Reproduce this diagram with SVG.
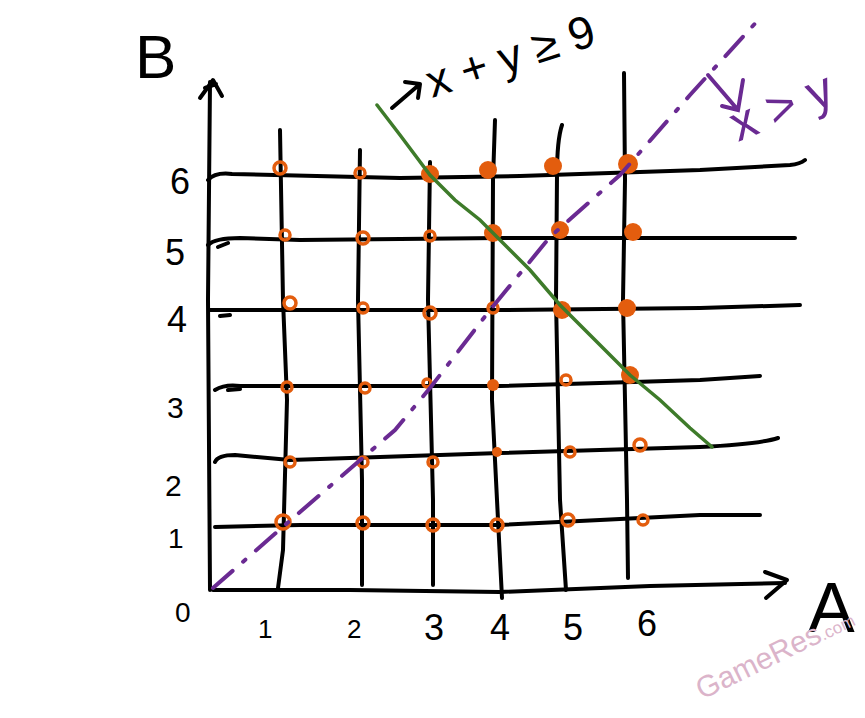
<svg xmlns="http://www.w3.org/2000/svg" width="865" height="718" viewBox="0 0 865 718">
<style>
.ink{fill:none;stroke:#000;stroke-width:4;stroke-linecap:round;stroke-linejoin:round}
.lbl{font-family:"Liberation Sans","DejaVu Sans",sans-serif;fill:#000}
.ring{fill:none;stroke:#e35d0e;stroke-width:3.5}
.dot{fill:#e35d0e}
.purple{fill:none;stroke:#6a2a92;stroke-width:4;stroke-linecap:round}
</style>
<rect width="865" height="718" fill="#fff"/>
<g id="grid">
<path class="ink" d="M208,180 Q215,172 232,174 L400,178 L520,176 L700,170 L790,165 Q800,164 805,160"/>
<path class="ink" d="M208,245 Q215,238 240,238 L300,240 L500,238 L795,238"/>
<path class="ink" d="M210,310 L500,310 L700,308 L800,305"/>
<path class="ink" d="M215,390 Q225,384 240,386 L500,386 L700,380 L760,376"/>
<path class="ink" d="M215,462 Q218,455 235,455 L290,460 L500,453 L700,447 Q760,444 778,438"/>
<path class="ink" d="M215,527 L300,525 L500,525 L600,520 L700,515 L760,515"/>
<path class="ink" d="M280,130 L283,300 L287,400 L283,550 L278,588"/>
<path class="ink" d="M360,150 L358,300 L362,480 L362,585"/>
<path class="ink" d="M430,162 L428,300 L433,500 L433,585"/>
<path class="ink" d="M495,120 L493,180 L492,400 L497,500 L502,598"/>
<path class="ink" d="M562,125 Q557,140 557,175 L556,300 L560,500 L566,590"/>
<path class="ink" d="M624,73 L625,180 L623,300 L627,500 L628,578"/>
<path class="ink" d="M218,247 L228,243 M220,316 L230,315 M228,390 L240,389"/>
</g>
<g id="axes">
<path class="ink" d="M210,82 L208,300 L210,590"/>
<path class="ink" d="M200,98 L213,80 L222,96 M205,88 L216,84"/>
<path class="ink" d="M213,590 L350,590 L500,592 L650,586 L785,583"/>
<path class="ink" d="M765,572 L787,580 L766,598"/>
</g>
<g id="points">
<circle class="ring" cx="280" cy="168" r="6"/>
<circle class="ring" cx="360" cy="173" r="5"/>
<circle class="dot" cx="430" cy="174" r="9"/>
<circle class="dot" cx="488" cy="170" r="9"/>
<circle class="dot" cx="553" cy="166" r="9"/>
<circle class="dot" cx="628" cy="164" r="10"/>
<circle class="ring" cx="285" cy="235" r="5"/>
<circle class="ring" cx="363" cy="238" r="6"/>
<circle class="ring" cx="430" cy="236" r="5"/>
<circle class="dot" cx="493" cy="233" r="9"/>
<circle class="dot" cx="560" cy="230" r="9"/>
<circle class="dot" cx="633" cy="232" r="9"/>
<circle class="ring" cx="290" cy="303" r="6"/>
<circle class="ring" cx="363" cy="308" r="5"/>
<circle class="ring" cx="430" cy="313" r="6"/>
<circle class="ring" cx="493" cy="308" r="5"/>
<circle class="dot" cx="562" cy="310" r="9"/>
<circle class="dot" cx="627" cy="308" r="9"/>
<circle class="ring" cx="287" cy="387" r="5"/>
<circle class="ring" cx="365" cy="388" r="5"/>
<circle class="ring" cx="427" cy="383" r="4"/>
<circle class="dot" cx="493" cy="385" r="6"/>
<circle class="ring" cx="566" cy="380" r="5"/>
<circle class="dot" cx="630" cy="375" r="9"/>
<circle class="ring" cx="290" cy="462" r="5"/>
<circle class="ring" cx="363" cy="462" r="5"/>
<circle class="ring" cx="433" cy="462" r="5"/>
<circle class="dot" cx="497" cy="452" r="5"/>
<circle class="ring" cx="570" cy="452" r="5"/>
<circle class="ring" cx="640" cy="445" r="6"/>
<circle class="ring" cx="283" cy="522" r="7"/>
<circle class="ring" cx="363" cy="523" r="6"/>
<circle class="ring" cx="433" cy="525" r="6"/>
<circle class="ring" cx="497" cy="525" r="6"/>
<circle class="ring" cx="568" cy="520" r="6"/>
<circle class="ring" cx="643" cy="520" r="5"/>
</g>
<g id="connectors">
<path d="M377,105 L400,135 L430,175 L455,200 L480,220 L500,240 L530,270 L560,305 L600,345 L630,375 L660,400 L690,428 L712,447" fill="none" stroke="#3e7b2a" stroke-width="3.5" stroke-linecap="round"/>
<path class="purple" stroke-dasharray="26 14 3 14" d="M213,588 L285,525 L395,430 L430,388 L490,310 L550,237 L620,175 L690,95 L760,18"/>
<path class="purple" d="M708,75 L738,110 M743,80 L738,110 L722,106"/>
<path class="ink" d="M392,108 L420,84 M405,82 L420,84 L418,98"/>
</g>
<g id="labels">
<text class="lbl" x="135" y="78" font-size="62">B</text>
<text class="lbl" x="808" y="632" font-size="70">A</text>
<text class="lbl" x="170" y="194" font-size="36">6</text>
<text class="lbl" x="165" y="265" font-size="36">5</text>
<text class="lbl" x="167" y="332" font-size="36">4</text>
<text class="lbl" x="167" y="418" font-size="30">3</text>
<text class="lbl" x="165" y="496" font-size="30">2</text>
<text class="lbl" x="168" y="548" font-size="28">1</text>
<text class="lbl" x="175" y="622" font-size="28">0</text>
<text class="lbl" x="258" y="638" font-size="26">1</text>
<text class="lbl" x="347" y="638" font-size="26">2</text>
<text class="lbl" x="424" y="640" font-size="36">3</text>
<text class="lbl" x="490" y="640" font-size="36">4</text>
<text class="lbl" x="563" y="640" font-size="36">5</text>
<text class="lbl" x="637" y="636" font-size="36">6</text>
<text class="lbl" transform="translate(432,98) rotate(-18)" font-size="46">x + y ≥ 9</text>
<text class="lbl" transform="translate(738,142) rotate(-22)" font-size="50" style="fill:#6a2a92">x &gt; y</text>
</g>
<g id="watermark">
<text transform="translate(702,700) rotate(-26)" font-family="Liberation Sans, sans-serif" font-size="30" fill="#dbb4ca">GameRes<tspan font-size="17">.com</tspan></text>
</g>
</svg>
